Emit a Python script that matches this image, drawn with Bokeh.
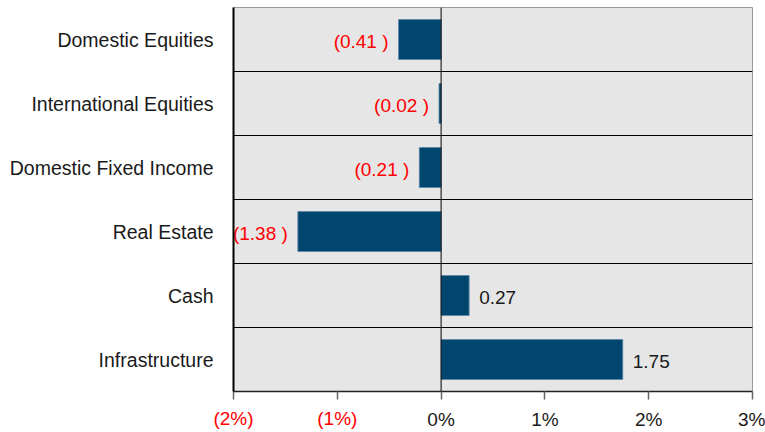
from bokeh.plotting import figure
from bokeh.models import FixedTicker, Span, ColumnDataSource, Range1d, LinearAxis
from bokeh.core.properties import value
from bokeh.embed import file_html
from bokeh.resources import INLINE

categories = ["Domestic Equities", "International Equities", "Domestic Fixed Income",
              "Real Estate", "Cash", "Infrastructure"]
values = [-0.41, -0.02, -0.21, -1.38, 0.27, 1.75]
x_ticks = [-2, -1, 0, 1, 2, 3]
x_tick_labels = ["(2%)", "(1%)", "0%", "1%", "2%", "3%"]

FONT = "Liberation Sans"
FS = "19px"
RED = "#ff0000"
BLACK = "#1a1a1a"

n = len(categories)
ypos = [n - i - 0.5 for i in range(n)]
labels = [f"({abs(v):.2f} )" if v < 0 else f"{v:.2f}" for v in values]
src = ColumnDataSource(dict(
    y=ypos, v=values, zero=[0] * n, lab=labels,
    col=[RED if v < 0 else BLACK for v in values],
    align=["right" if v < 0 else "left" for v in values],
    off=[-10 if v < 0 else 10 for v in values],
))

p = figure(width=765, height=432, output_backend="svg", toolbar_location=None,
           x_range=Range1d(-2, 3), y_range=Range1d(0, n),
           min_border_left=233, min_border_right=13, min_border_top=7, min_border_bottom=41)
p.background_fill_color = "#e6e6e6"
p.border_fill_color = "white"
p.outline_line_color = "#999999"
p.outline_line_width = 1

p.hbar(y="y", left="zero", right="v", height=0.625, source=src,
       fill_color="#00466e", line_color="#5a88a8", line_width=0.8)
p.text(x="v", y="y", text="lab", text_color="col", text_align="align",
       x_offset="off", y_offset=2, text_baseline="middle", source=src,
       text_font=value(FONT), text_font_size=value(FS))

p.add_layout(Span(location=0, dimension="height", line_color="black", line_width=1))

# grids
p.xgrid.visible = False
p.ygrid.ticker = FixedTicker(ticks=[i for i in range(1, n)])
p.ygrid.grid_line_color = "black"
p.ygrid.grid_line_width = 1

# y axis
p.yaxis.ticker = FixedTicker(ticks=ypos)
p.yaxis.major_label_overrides = {y: c for y, c in zip(ypos, categories)}
p.yaxis.major_tick_out = 0
p.yaxis.major_tick_in = 0
p.yaxis.minor_tick_out = 0
p.yaxis.minor_tick_in = 0
p.yaxis.axis_line_color = "black"
p.yaxis.axis_line_width = 2
p.yaxis.major_label_standoff = 20
p.yaxis.major_label_text_font = FONT
p.yaxis.major_label_text_font_size = "19.5px"
p.yaxis.major_label_text_color = BLACK

# x axis (ticks + non-negative labels)
neg_ticks = [t for t in x_ticks if t < 0]
xa = p.xaxis[0]
xa.ticker = FixedTicker(ticks=x_ticks)
xa.major_label_overrides = {t: (l if t >= 0 else "") for t, l in zip(x_ticks, x_tick_labels)}
xa.axis_line_color = "#222222"
xa.axis_line_width = 1.5
xa.major_tick_line_color = "#666666"
xa.major_tick_line_width = 1.5
xa.major_tick_out = 8
xa.major_tick_in = 0
xa.minor_tick_out = 0
xa.minor_tick_in = 0
xa.major_label_standoff = 9
xa.major_label_text_font = FONT
xa.major_label_text_font_size = FS
xa.major_label_text_color = BLACK

# second axis carrying the red (negative) tick labels, pulled up into the same row
xr = LinearAxis(ticker=FixedTicker(ticks=neg_ticks),
                major_label_overrides={t: l for t, l in zip(x_ticks, x_tick_labels) if t < 0},
                axis_line_color=None, major_tick_line_color=None, minor_tick_line_color=None,
                major_tick_out=0, major_tick_in=0, minor_tick_out=0, minor_tick_in=0,
                major_label_standoff=-25, major_label_text_font=FONT,
                major_label_text_font_size=FS, major_label_text_color=RED)
p.add_layout(xr, "below")

open("out.html", "w").write(file_html(p, INLINE))
